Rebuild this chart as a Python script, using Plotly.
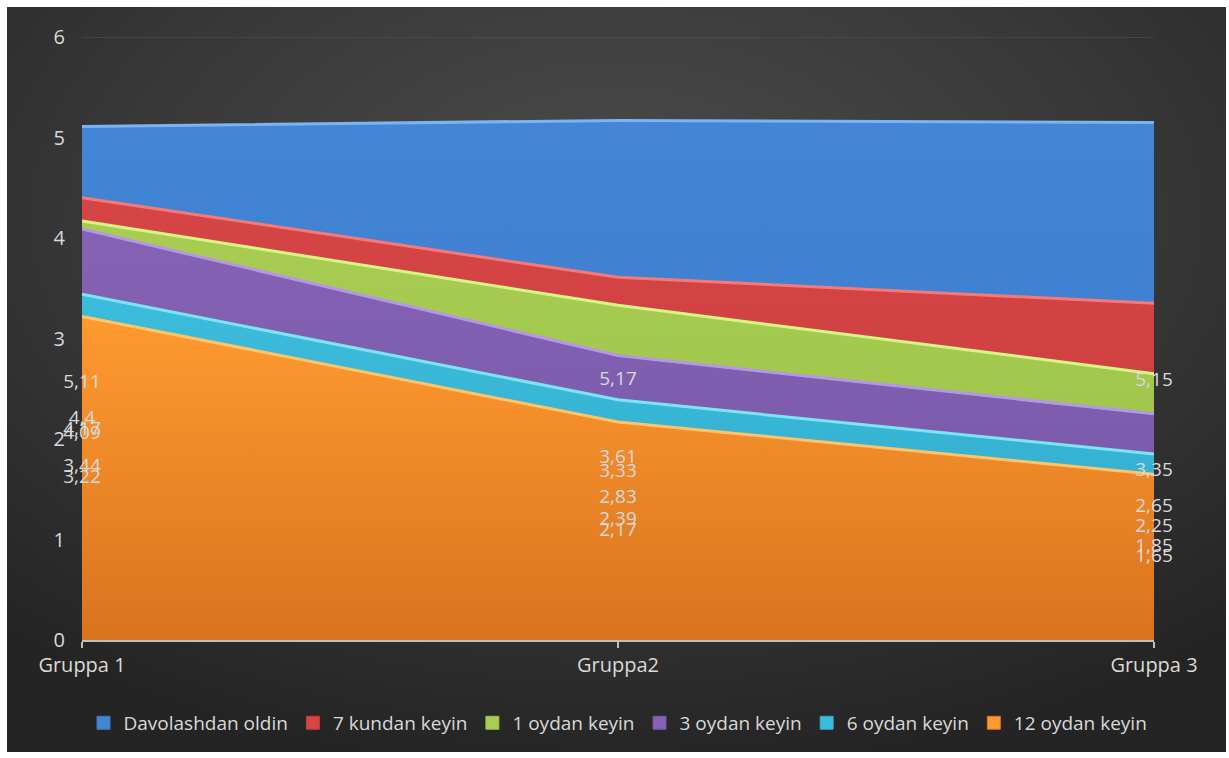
import base64
import plotly.graph_objects as go

# Categories and series values
groups = ["Gruppa 1", "Gruppa2", "Gruppa 3"]
series_names = [
    "Davolashdan oldin",
    "7 kundan keyin",
    "1 oydan keyin",
    "3 oydan keyin",
    "6 oydan keyin",
    "12 oydan keyin",
]
davolashdan_oldin = [5.11, 5.17, 5.15]
kundan_7 = [4.4, 3.61, 3.35]
oydan_1 = [4.17, 3.33, 2.65]
oydan_3 = [4.09, 2.83, 2.25]
oydan_6 = [3.44, 2.39, 1.85]
oydan_12 = [3.22, 2.17, 1.65]
y_ticks = [0, 1, 2, 3, 4, 5, 6]

series_values = [davolashdan_oldin, kundan_7, oydan_1, oydan_3, oydan_6, oydan_12]

# Styling: (bottom fill, top fill, highlight edge)
styles = [
    ("#3a78c6", "#4386d6", "#7ab4f2"),
    ("#c63b3b", "#d64545", "#f47a7a"),
    ("#98bf45", "#a8cd52", "#d6f585"),
    ("#7656a6", "#8562b4", "#b497e6"),
    ("#2fa9c9", "#3cbcdc", "#7de4f7"),
    ("#d9731f", "#ff9a30", "#ffc36a"),
]

W, H = 1229, 758
ML, MR, MT, MB = 82, 75, 37, 118
PW, PH = W - ML - MR, H - MT - MB

x_pos = list(range(len(groups)))

fig = go.Figure()

# Overlapping (non-stacked) areas, largest first so smaller ones sit on top
for name, vals, (c0, c1, edge) in zip(series_names, series_values, styles):
    fig.add_trace(go.Scatter(
        x=x_pos, y=vals, name=name, mode="lines",
        fill="tozeroy",
        fillgradient=dict(type="vertical", start=0, stop=max(vals),
                          colorscale=[[0, c0], [1, c1]]),
        line=dict(color=edge, width=3),
        hoverinfo="name+y",
        showlegend=False,
    ))

# Square legend keys
for name, (c0, c1, edge) in zip(series_names, styles):
    fig.add_trace(go.Scatter(
        x=[None], y=[None], name=name, mode="markers",
        marker=dict(symbol="square", size=13, color=c1,
                    line=dict(color=c0, width=1)),
    ))

# Value labels, placed at the middle of each area's height
for vals in series_values:
    fig.add_trace(go.Scatter(
        x=x_pos, y=[v / 2 for v in vals], mode="text",
        text=[("%g" % v).replace(".", ",") for v in vals],
        textposition="middle center",
        textfont=dict(family="Open Sans", size=19, color="#d9d9d9"),
        cliponaxis=False,
        showlegend=False, hoverinfo="skip",
    ))

# Dark radial-gradient backdrop
svg = (
    '<svg xmlns="http://www.w3.org/2000/svg" width="400" height="250" '
    'preserveAspectRatio="none" viewBox="0 0 400 250">'
    '<defs><radialGradient id="g" cx="50%" cy="28%" r="75%">'
    '<stop offset="0" stop-color="#4c4c4c"/>'
    '<stop offset="0.55" stop-color="#383838"/>'
    '<stop offset="1" stop-color="#242424"/>'
    '</radialGradient></defs>'
    '<rect width="400" height="250" fill="url(#g)"/></svg>'
)
src = "data:image/svg+xml;base64," + base64.b64encode(svg.encode()).decode()
bg_left, bg_top, bg_right, bg_bottom = 7, 7, 1226, 752
fig.add_layout_image(dict(
    source=src, xref="paper", yref="paper",
    x=(bg_left - ML) / PW, y=(H - MB - bg_top) / PH,
    sizex=(bg_right - bg_left) / PW, sizey=(bg_bottom - bg_top) / PH,
    xanchor="left", yanchor="top", sizing="stretch", layer="below",
))

# Top gridline (the lower ones are covered by the areas)
fig.add_shape(type="line", xref="paper", yref="y",
              x0=0, x1=1, y0=max(y_ticks), y1=max(y_ticks),
              line=dict(color="#555555", width=1), layer="above")

fig.update_layout(
    width=W, height=H,
    margin=dict(l=ML, r=MR, t=MT, b=MB),
    paper_bgcolor="white",
    plot_bgcolor="rgba(0,0,0,0)",
    font=dict(family="Open Sans", color="#d9d9d9"),
    showlegend=True,
    legend=dict(
        orientation="h", x=0.5, xanchor="center", y=-0.106, yanchor="top",
        font=dict(size=19, color="#d9d9d9"),
        bgcolor="rgba(0,0,0,0)", itemwidth=30, traceorder="normal",
    ),
    xaxis=dict(
        range=[0, len(groups) - 1], tickvals=x_pos, ticktext=groups,
        showgrid=False, zeroline=False,
        showline=True, linecolor="#bfbfbf", linewidth=2,
        ticks="outside", ticklen=6, tickcolor="#bfbfbf", tickwidth=2,
        tickfont=dict(size=20, color="#d9d9d9"),
    ),
    yaxis=dict(
        range=[0, 6], tickvals=y_ticks,
        showgrid=False, zeroline=False, showline=False, ticks="",
        ticklabelstandoff=16,
        tickfont=dict(size=20, color="#d9d9d9"),
    ),
)

fig.write_html("out.html")
